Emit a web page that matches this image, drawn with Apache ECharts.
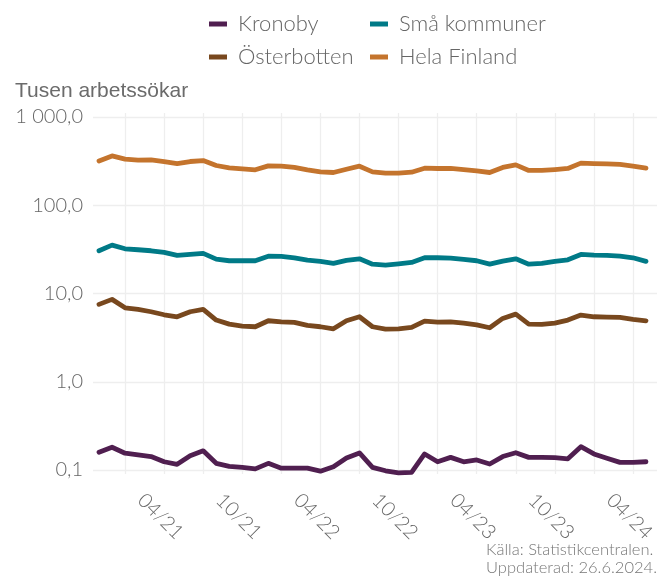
<!DOCTYPE html>
<html>
<head>
<meta charset="utf-8">
<script src="https://cdn.jsdelivr.net/npm/echarts@6/dist/echarts.min.js"></script>
<style>
html, body { margin: 0; padding: 0; background: #fff; }
#main { width: 666px; height: 583px; }
</style>
</head>
<body>
<div id="main"></div>
<script>
// månader, nov 2020 - maj 2024
var months = ['11/20', '12/20',
	'01/21', '02/21', '03/21', '04/21', '05/21', '06/21', '07/21', '08/21', '09/21', '10/21', '11/21', '12/21',
	'01/22', '02/22', '03/22', '04/22', '05/22', '06/22', '07/22', '08/22', '09/22', '10/22', '11/22', '12/22',
	'01/23', '02/23', '03/23', '04/23', '05/23', '06/23', '07/23', '08/23', '09/23', '10/23', '11/23', '12/23',
	'01/24', '02/24', '03/24', '04/24', '05/24'];
// tusen arbetssökande
var kronoby = [0.159, 0.181, 0.155, 0.148, 0.142, 0.124, 0.116, 0.145, 0.165, 0.119,
	0.110, 0.107, 0.103, 0.119, 0.105, 0.105, 0.105, 0.097, 0.109, 0.137,
	0.156, 0.107, 0.098, 0.093, 0.094, 0.152, 0.124, 0.139, 0.124, 0.130,
	0.117, 0.142, 0.157, 0.139, 0.139, 0.138, 0.134, 0.184, 0.152, 0.136,
	0.122, 0.122, 0.124];
var osterbotten = [7.53, 8.58, 6.89, 6.61, 6.21, 5.74, 5.45, 6.21, 6.61, 5.00,
	4.50, 4.27, 4.20, 4.91, 4.78, 4.71, 4.35, 4.20, 3.98, 4.91,
	5.45, 4.20, 3.95, 3.98, 4.13, 4.87, 4.74, 4.78, 4.62, 4.42,
	4.09, 5.22, 5.84, 4.50, 4.46, 4.62, 5.00, 5.69, 5.45, 5.41,
	5.37, 5.09, 4.91];
var smaKommuner = [30.5, 35.3, 32.1, 31.3, 30.5, 29.2, 27.0, 27.7, 28.5, 24.5,
	23.5, 23.5, 23.5, 26.5, 26.3, 25.4, 23.9, 23.1, 21.9, 23.7,
	24.7, 21.5, 21.0, 21.7, 22.5, 25.4, 25.4, 25.2, 24.3, 23.5,
	21.5, 23.3, 24.7, 21.5, 21.9, 23.1, 24.1, 27.7, 27.2, 27.0,
	26.5, 25.4, 23.1];
var helaFinland = [318, 362, 333, 324, 327, 313, 297, 313, 321, 282,
	265, 258, 252, 279, 277, 268, 252, 239, 235, 256,
	277, 239, 231, 231, 237, 263, 261, 261, 254, 245,
	235, 268, 287, 248, 248, 254, 261, 300, 297, 294,
	290, 277, 263];
var yTicks = [0.1, 1, 10, 100, 1000];
var labelMonths = ['04', '10'];
var gridMonths = ['01', '04', '07', '10'];

var font = 'Lato';
var grey = '#666666';
var gridColor = '#eeeeee';

function fmtNum(v) {
	var s = v.toFixed(1).replace('.', ',');
	var parts = s.split(',');
	parts[0] = parts[0].replace(/\B(?=(\d{3})+(?!\d))/g, ' ');
	return parts.join(',');
}

var myChart = echarts.init(document.getElementById('main'));

// datagrid: y-axel som matchar bakgrundens 0,1 - 1000 men lite längre
var pxPerDecade = 88.3;
var yMinA = Math.pow(10, -1 - 4 / pxPerDecade);
var yMaxA = Math.pow(10, 3 + 4 / pxPerDecade);

function line(name, data, color) {
	return {
		name: name,
		type: 'line',
		xAxisIndex: 0,
		yAxisIndex: 0,
		data: data,
		showSymbol: false,
		symbol: 'none',
		clip: false,
		lineStyle: { width: 4.8, color: color, join: 'round', cap: 'round' },
		itemStyle: { color: color }
	};
}

var legendBase = {
	orient: 'vertical',
	top: 8,
	itemGap: 11,
	itemWidth: 18,
	itemHeight: 5,
	icon: 'rect',
	selectedMode: false,
	formatter: function (n) { return ' ' + n; },
	textStyle: { fontFamily: font, fontWeight: 300, fontSize: 22, color: '#666', lineHeight: 22 }
};

option = {
	animation: false,
	backgroundColor: '#fff',
	title: [{
		text: 'Tusen arbetssökar',
		left: 10,
		top: 76,
		textStyle: { fontFamily: 'Liberation Sans', fontWeight: 'normal', fontSize: 21, color: '#6b6b6b' }
	}],
	graphic: [{
		type: 'text',
		right: 9,
		top: 541,
		style: {
			text: 'Källa: Statistikcentralen.\nUppdaterad: 26.6.2024.',
			align: 'right',
			font: '300 16.5px Lato',
			lineHeight: 18,
			fill: '#777'
		}
	}],
	legend: [
		Object.assign({}, legendBase, { left: 204, data: ['Kronoby', 'Österbotten'] }),
		Object.assign({}, legendBase, { left: 365, data: ['Små kommuner', 'Hela Finland'] })
	],
	grid: [
		{ left: 99, right: 20, top: 113, bottom: 109 },
		{ left: 93, right: 9, top: 117, bottom: 113 }
	],
	xAxis: [{
		type: 'category',
		gridIndex: 0,
		data: months,
		boundaryGap: false,
		axisLine: { show: false },
		axisTick: { show: false },
		axisLabel: {
			interval: function (i, v) { return labelMonths.indexOf(v.slice(0, 2)) >= 0; },
			rotate: -45,
			align: 'center',
			verticalAlign: 'middle',
			margin: 46,
			padding: [9, 10, 0, 0],
			fontFamily: font,
			fontWeight: 300,
			fontSize: 20,
			color: grey
		},
		splitLine: {
			show: true,
			interval: function (i, v) { return gridMonths.indexOf(v.slice(0, 2)) >= 0; },
			lineStyle: { color: gridColor, width: 1.3 }
		}
	}, {
		type: 'value',
		gridIndex: 1,
		show: false
	}],
	yAxis: [{
		type: 'log',
		gridIndex: 0,
		logBase: 10,
		min: yMinA,
		max: yMaxA,
		show: false,
		splitLine: { show: false }
	}, {
		type: 'log',
		gridIndex: 1,
		logBase: 10,
		min: yTicks[0],
		max: yTicks[yTicks.length - 1],
		axisLine: { show: false },
		axisTick: { show: false },
		axisLabel: {
			margin: 10,
			fontFamily: font,
			fontWeight: 300,
			fontSize: 20,
			color: grey,
			formatter: function (v) { return fmtNum(v); }
		},
		splitLine: { show: true, lineStyle: { color: gridColor, width: 1.3 } }
	}],
	series: [
		line('Kronoby', kronoby, '#501f50'),
		line('Österbotten', osterbotten, '#78481e'),
		line('Små kommuner', smaKommuner, '#007a87'),
		line('Hela Finland', helaFinland, '#c4742d')
	]
};

myChart.setOption(option);
</script>
</body>
</html>
